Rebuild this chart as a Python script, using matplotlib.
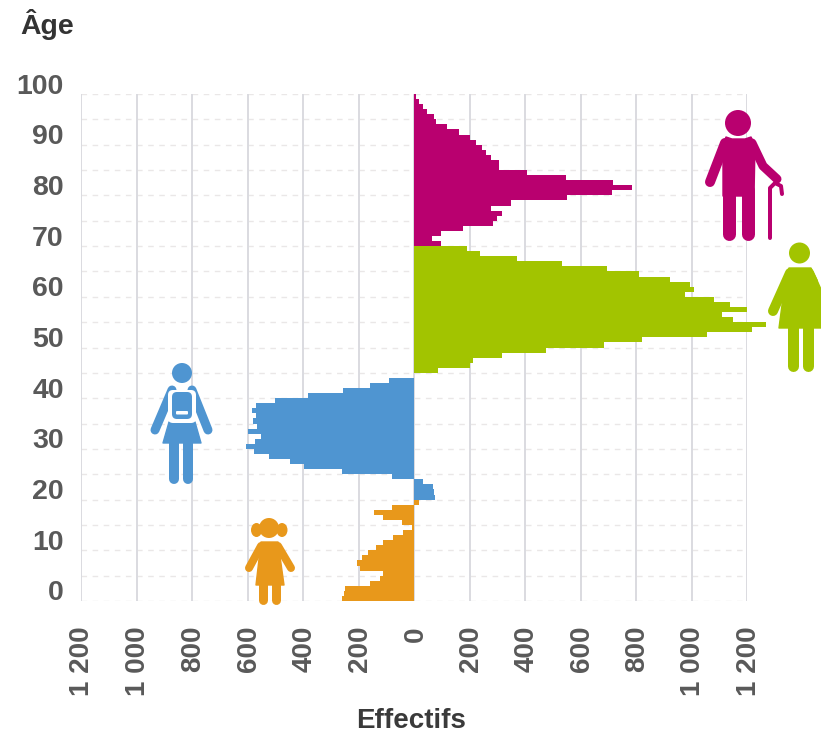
import matplotlib
matplotlib.use("Agg")
import matplotlib.pyplot as plt
from matplotlib.patches import Circle, Ellipse, Polygon, FancyBboxPatch
from matplotlib.transforms import ScaledTranslation

plt.rcParams['font.family'] = ['Liberation Sans', 'DejaVu Sans']

# Values by single year of age, from the oldest age of each group downwards
ages_senior = list(range(99, 69, -1))
senior = [6, 18, 34, 48, 72, 78, 120, 162, 200, 225, 246, 258, 278, 306, 306,
          408, 548, 716, 784, 714, 552, 350, 278, 316, 300, 286, 178, 98, 66, 98]
ages_adult = list(range(69, 44, -1))
adult = [190, 238, 372, 534, 696, 810, 924, 996, 1008, 978, 1082, 1140, 1200, 1110,
         1150, 1270, 1218, 1056, 822, 684, 476, 318, 214, 200, 88]
ages_young = list(range(43, 19, -1))
young = [-89, -158, -257, -383, -500, -569, -584, -569, -581, -566, -600, -552,
         -572, -605, -578, -524, -446, -398, -260, -80, 31, 67, 72, 76]
ages_child = list(range(19, -1, -1))
child = [19, -78, -143, -110, -43, -8, -38, -74, -110, -138, -164, -188, -206,
         -194, -110, -122, -158, -248, -254, -260]

xticks = [-1200, -1000, -800, -600, -400, -200, 0, 200, 400, 600, 800, 1000, 1200]
xticklabels = ['1 200', '1 000', '800', '600', '400', '200', '0', '200', '400',
               '600', '800', '1 000', '1 200']
yticks = [0, 10, 20, 30, 40, 50, 60, 70, 80, 90, 100]
minor_y = [5, 15, 25, 35, 45, 55, 65, 75, 85, 95]

C_SENIOR, C_ADULT, C_YOUNG, C_CHILD = '#B9006F', '#A2C400', '#4F95D1', '#E8981B'
GREY = '#595959'

W, H = 821, 734
fig = plt.figure(figsize=(W / 100, H / 100), dpi=100, facecolor='white')
ax = fig.add_axes([81 / W, (H - 601) / H, 666 / W, 507 / H])
ax.set_xlim(-1200, 1200)
ax.set_ylim(0, 100)
for s in ax.spines.values():
    s.set_visible(False)
ax.set_axisbelow(True)
ax.xaxis.grid(True, color='#DADBE0', lw=1.4)
for y in sorted(yticks + minor_y):
    ax.axhline(y, color='#EAE7E7', lw=1.0, dashes=(4, 4), zorder=0)

for ages, vals, col in [(ages_senior, senior, C_SENIOR), (ages_adult, adult, C_ADULT),
                        (ages_young, young, C_YOUNG), (ages_child, child, C_CHILD)]:
    bars = ax.barh(ages, vals, height=1.0, align='edge', color=col, lw=0, zorder=3)
    for b in bars:
        b.set_clip_on(False)

ax.set_xticks(xticks)
ax.set_xticklabels(xticklabels, rotation=90, va='top', ha='center', fontsize=20,
                   fontweight='bold', color=GREY)
ax.set_yticks(yticks)
ax.set_yticklabels([str(v) for v in yticks], fontsize=20.5, fontweight='bold', color=GREY)
ax.tick_params(axis='both', length=0)
ax.tick_params(axis='x', pad=18)
ax.tick_params(axis='y', pad=12.5)
off_y = ScaledTranslation(0, 10.5 / 100, fig.dpi_scale_trans)
for lab in ax.get_yticklabels():
    lab.set_transform(lab.get_transform() + off_y)
off_x = ScaledTranslation(1.5 / 100, 0, fig.dpi_scale_trans)
for lab in ax.get_xticklabels():
    lab.set_transform(lab.get_transform() + off_x)

fig.text(47.5 / W, 1 - 25 / H, 'Âge', ha='center', va='center', fontsize=20.5,
         fontweight='bold', color='#333333')
fig.text(411.5 / W, 1 - 721 / H, 'Effectifs', ha='center', va='center', fontsize=20,
         fontweight='bold', color='#3A3A3A')

# Pictograms, in figure pixels
ov = fig.add_axes([0, 0, 1, 1], facecolor='none')
ov.set_xlim(0, W)
ov.set_ylim(H, 0)
ov.axis('off')


def limb(pts, col, w, z=5):
    ov.plot([p[0] for p in pts], [p[1] for p in pts], color=col, lw=w * 0.72,
            solid_capstyle='round', solid_joinstyle='round', zorder=z, clip_on=False)


def poly(pts, col, z=5):
    ov.add_patch(Polygon(pts, closed=True, fc=col, ec=col, lw=1, joinstyle='round',
                         zorder=z, clip_on=False))


def head(x, y, r, col, z=5):
    ov.add_patch(Circle((x, y), r, fc=col, ec='none', zorder=z, clip_on=False))


# Elderly person
c = C_SENIOR
head(738, 123, 13, c)
poly([(726, 137), (732, 139), (745, 139), (751, 137), (755, 145), (754, 196), (723, 196), (723, 145)], c)
limb([(725, 143), (710, 182)], c, 10)
limb([(752, 143), (763, 166), (777, 179)], c, 9)
limb([(729, 190), (729, 234)], c, 13)
limb([(748, 190), (748, 234)], c, 13)
limb([(770, 238), (770, 188), (775, 183), (781, 186), (782, 194)], c, 4)

# Woman
c = C_ADULT
head(799.5, 253, 10.5, c)
poly([(789, 268), (811, 268), (817, 280), (826, 328), (779, 328), (785, 282)], c)
limb([(790, 273), (773, 311)], c, 10)
limb([(809, 273), (826, 311)], c, 10)
limb([(792.5, 325), (792.5, 366)], c, 11)
limb([(807.5, 325), (807.5, 366)], c, 11)

# Schoolchild with backpack
c = C_YOUNG
head(182, 373, 10, c)
limb([(172, 390), (155, 430)], c, 9)
limb([(192, 390), (208, 430)], c, 9)
poly([(169, 422), (195, 422), (201, 443), (163, 443)], c)
ov.add_patch(FancyBboxPatch((169, 391), 26, 31, boxstyle='round,pad=1,rounding_size=5',
                            fc='white', ec='none', zorder=6, clip_on=False))
ov.add_patch(FancyBboxPatch((172, 392), 20, 27, boxstyle='round,pad=0,rounding_size=5',
                            fc=c, ec='none', zorder=7, clip_on=False))
ov.add_patch(FancyBboxPatch((176, 411), 12, 3.5, boxstyle='round,pad=0,rounding_size=1',
                            fc='white', ec='none', zorder=8, clip_on=False))
limb([(174, 443), (174, 479)], c, 10)
limb([(188, 443), (188, 479)], c, 10)

# Little girl
c = C_CHILD
head(269, 528, 10, c)
ov.add_patch(Ellipse((256.5, 530), 11, 14, fc=c, ec='none', zorder=5, clip_on=False))
ov.add_patch(Ellipse((282, 530), 11, 14, fc=c, ec='none', zorder=5, clip_on=False))
poly([(261, 542), (278, 542), (284, 585), (256, 585)], c)
limb([(261, 546), (249, 568)], c, 8)
limb([(278, 546), (291, 568)], c, 8)
limb([(262.5, 585), (262.5, 600)], c, 9)
limb([(275.5, 585), (275.5, 600)], c, 9)

fig.savefig('out.png', dpi=100)
